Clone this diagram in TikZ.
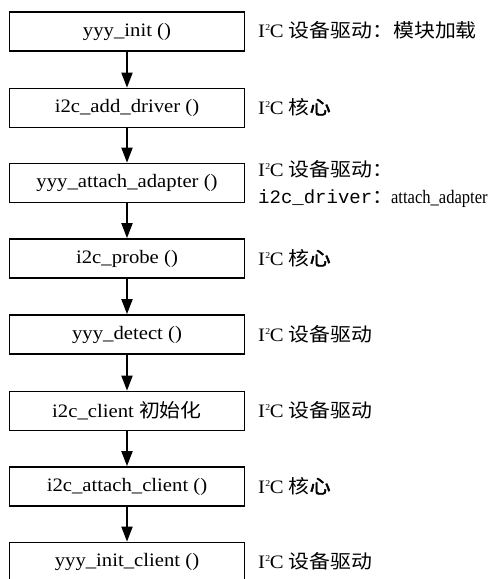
\documentclass[tikz,border=0pt]{standalone}
\usepackage{fontspec}
\usepackage{graphicx}
\usetikzlibrary{arrows.meta}
\setmainfont{Liberation Serif}[FakeStretch=1.09]
\newfontfamily\cjk{Noto Sans CJK SC}[FakeStretch=1.1]
\newfontfamily\cjkb{Noto Sans CJK SC}[FakeStretch=1.1,FakeBold=2.5]
\newfontfamily\monof{Liberation Mono}
\newcommand{\myfs}{\fontsize{19}{22}\selectfont}
\newcommand{\itc}{I\kern0.3pt\raisebox{6.5pt}{\fontsize{9}{9}\selectfont 2}\kern-0.5ptC}
\begin{document}
\begin{tikzpicture}[x=1pt,y=-1pt,
  box/.style={draw, line width=1.7pt, minimum width=235pt, minimum height=39pt, inner sep=0pt, font=\myfs},
  lab/.style={anchor=west, inner sep=0pt, font=\myfs, align=left},
  arr/.style={-{Triangle[length=15pt,width=11pt]}, line width=1.8pt}]
\useasboundingbox (0,0) rectangle (497,579);
\clip (0,0) rectangle (497,579);
\node[box] (b1) at (127,31.5) {yyy\_init ()};
\node[box] (b2) at (127,108) {i2c\_add\_driver ()};
\node[box] (b3) at (127,183) {yyy\_attach\_adapter ()};
\node[box] (b4) at (127,258.5) {i2c\_probe ()};
\node[box] (b5) at (127,334.5) {yyy\_detect ()};
\node[box] (b6) at (127,411) {i2c\_client {\cjk 初始化}};
\node[box] (b7) at (127,486.5) {i2c\_attach\_client ()};
\node[box] (b8) at (127,562) {yyy\_init\_client ()};
\node[lab] (l1) at (258,30) {\itc{} {\cjk 设备驱动：模块加载}};
\node[lab] (l2) at (258,107) {\itc{} {\cjk 核}{\cjkb 心}};
\node[lab] (l3a) at (258,169) {\itc{} {\cjk 设备驱动：}};
\node[lab] (l3b) at (258,199) {{\monof i2c\_driver}{\cjk ：}\kern-2pt\scalebox{0.8}[1]{attach\_adapter}};
\node[lab] (l4) at (258,258) {\itc{} {\cjk 核}{\cjkb 心}};
\node[lab] (l5) at (258,334) {\itc{} {\cjk 设备驱动}};
\node[lab] (l6) at (258,410) {\itc{} {\cjk 设备驱动}};
\node[lab] (l7) at (258,486) {\itc{} {\cjk 核}{\cjkb 心}};
\node[lab] (l8) at (258,561) {\itc{} {\cjk 设备驱动}};
\foreach \a/\b in {b1/b2,b2/b3,b3/b4,b4/b5,b5/b6,b6/b7,b7/b8}
  \draw[arr] (\a.south) -- (\b.north);
\end{tikzpicture}
\end{document}
